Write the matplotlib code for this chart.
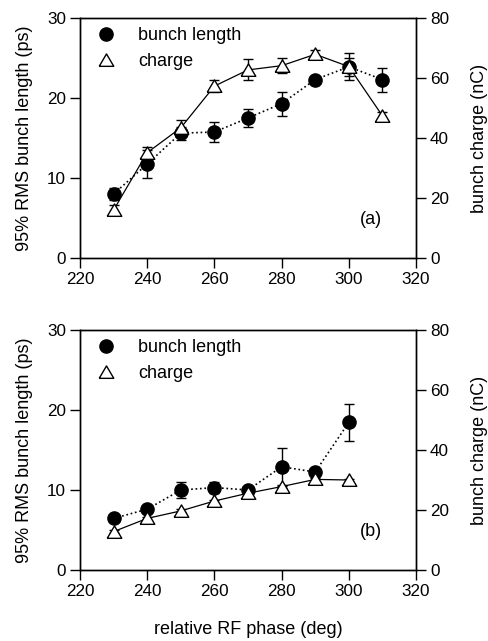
import matplotlib
matplotlib.use('Agg')
import matplotlib.pyplot as plt
from matplotlib.lines import Line2D

plt.rcParams['font.family'] = ['Liberation Sans', 'DejaVu Sans']
plt.rcParams['font.size'] = 13

# panel (a)
phase_a = [230, 240, 250, 260, 270, 280, 290, 300, 310]
length_a = [8.0, 11.75, 15.6, 15.75, 17.5, 19.3, 22.3, 23.9, 22.3]
length_err_a = [0.7, 1.8, 0.8, 1.2, 1.1, 1.5, 0.4, 1.7, 1.5]
charge_a = [16.0, 35.1, 43.4, 57.3, 62.7, 64.1, 67.9, 63.8, 47.4]
charge_err_a = [1.5, 2.0, 2.5, 2.0, 3.5, 2.5, 1.5, 3.0, 1.2]

# panel (b)
phase_b = [230, 240, 250, 260, 270, 280, 290, 300]
length_b = [6.45, 7.6, 10.0, 10.3, 10.0, 12.9, 12.25, 18.45]
length_err_b = [0.3, 0.3, 1.0, 0.7, 0.3, 2.4, 0.3, 2.3]
charge_b = [12.8, 17.2, 19.7, 23.0, 25.6, 27.8, 30.2, 30.0]
charge_err_b = [0.5, 0.5, 0.5, 0.5, 0.5, 0.5, 0.5, 0.5]

xticks = [220, 240, 260, 280, 300, 320]
yticks = [0, 10, 20, 30]
y2ticks = [0, 20, 40, 60, 80]

# slightly flattened open triangle like the original
tri = [(-1, -0.8), (1, -0.8), (0, 0.9), (-1, -0.8)]

fig = plt.figure(figsize=(4.88, 6.41), dpi=100)
W, H = 488, 641


def panel(top_px, phase, length, lerr, charge, cerr, tag):
    ax = fig.add_axes([80 / W, (H - top_px - 240) / H, 336 / W, 240 / H])
    ax2 = ax.twinx()
    ax.errorbar(phase, length, yerr=lerr, fmt='o', ls=':', color='black',
                ms=9.5, lw=1.2, elinewidth=1, capsize=3.5, capthick=1)
    ax2.errorbar(phase, charge, yerr=cerr, marker=tri, ls='-', color='black',
                 mfc='white', mec='black', ms=10.5, mew=1, lw=0.9,
                 elinewidth=1, capsize=3.5, capthick=1)
    ax.set_xlim(220, 320)
    ax.set_ylim(0, 30)
    ax2.set_ylim(0, 80)
    ax.set_xticks(xticks)
    ax.set_yticks(yticks)
    ax2.set_yticks(y2ticks)
    for a in (ax, ax2):
        a.tick_params(direction='out', length=7, width=1, labelsize=12.3, pad=3)
        for s in a.spines.values():
            s.set_linewidth(1)
    ax.set_ylabel('95% RMS bunch length (ps)', fontsize=13, labelpad=10)
    ax2.set_ylabel('bunch charge (nC)', fontsize=13, labelpad=16)
    handles = [
        Line2D([], [], ls='none', marker='o', color='black', ms=9.5),
        Line2D([], [], ls='none', marker=tri, mfc='white', mec='black',
               ms=10.5, mew=1),
    ]
    ax2.legend(handles, ['bunch length', 'charge'], loc='upper left',
               frameon=False, fontsize=13, handlelength=1.0,
               handletextpad=1.25, borderaxespad=0.2, borderpad=0.3,
               labelspacing=0.5, bbox_to_anchor=(0.025, 1.0))
    ax.text(0.865, 0.16, tag, transform=ax.transAxes, fontsize=13,
            ha='center', va='center')
    return ax


panel(18, phase_a, length_a, length_err_a, charge_a, charge_err_a, '(a)')
axb = panel(330, phase_b, length_b, length_err_b, charge_b, charge_err_b, '(b)')
axb.set_xlabel('relative RF phase (deg)', fontsize=13, labelpad=16)

fig.savefig('out.png', dpi=100)
